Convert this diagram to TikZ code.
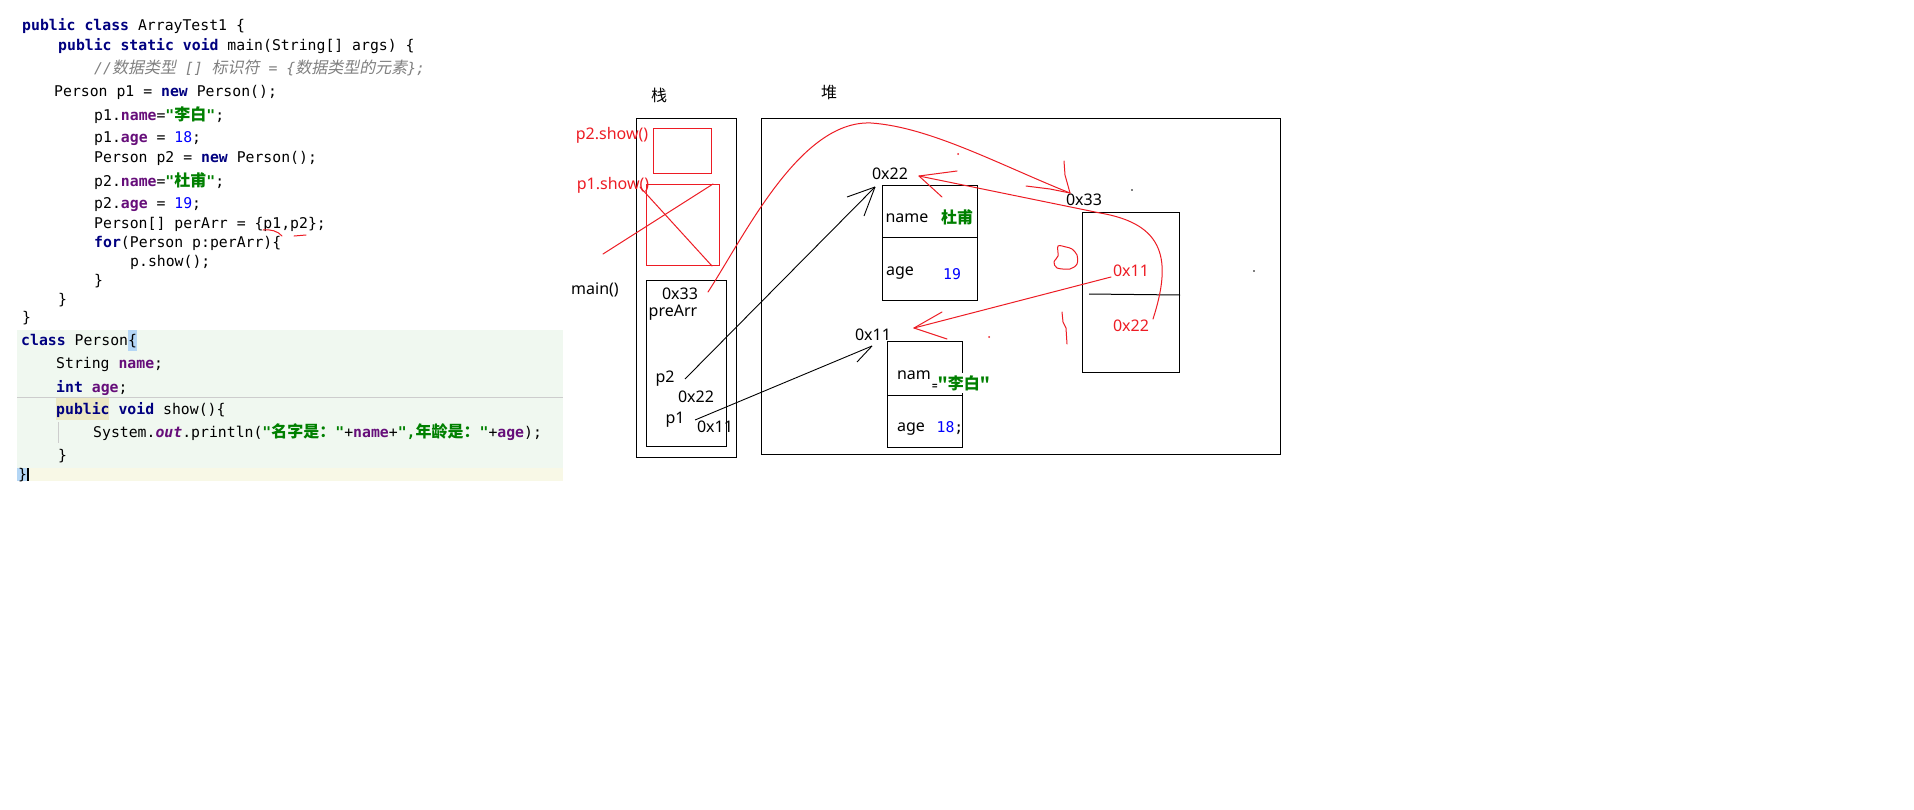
\documentclass[tikz,border=0pt]{standalone}
\usepackage{fontspec}
\setmainfont{Noto Sans}
\setmonofont{DejaVu Sans Mono}
\newfontfamily\cjk{Noto Sans CJK SC}
\newfontfamily\cjkit[FakeSlant=0.2]{Noto Sans CJK SC}
\definecolor{kwc}{RGB}{0,0,128}
\definecolor{fdc}{RGB}{102,14,122}
\definecolor{stc}{RGB}{0,128,0}
\definecolor{nmc}{RGB}{0,0,255}
\definecolor{cmc}{RGB}{128,128,128}
\definecolor{penred}{RGB}{237,28,36}
\definecolor{codebg}{RGB}{240,248,240}
\definecolor{curline}{RGB}{248,248,230}
\definecolor{bracebg}{RGB}{180,214,245}
\definecolor{pubbg}{RGB}{236,232,196}
\definecolor{guide}{RGB}{205,205,205}
\newcommand\kw[1]{{\color{kwc}\bfseries #1}}
\newcommand\fd[1]{{\color{fdc}\bfseries #1}}
\newcommand\st[1]{{\color{stc}\bfseries #1}}
\newcommand\nm[1]{{\color{nmc}#1}}
\newcommand\zh[1]{{\cjk\fontsize{16}{16}\selectfont #1}}
\newcommand\zhi[1]{{\cjkit\fontsize{16}{16}\selectfont #1}}
\tikzset{
  code/.style={anchor=base west, inner sep=0pt, font=\ttfamily\fontsize{14.8}{16}\selectfont},
  lbl/.style={inner sep=0pt, font=\fontsize{16}{18}\selectfont},
  redlbl/.style={lbl, text=penred},
  box/.style={draw=black, line width=1pt, anchor=north west, inner sep=0pt},
  redbox/.style={draw=penred, line width=1pt, anchor=north west, inner sep=0pt},
  ink/.style={draw=black, line width=0.9pt},
  redpen/.style={draw=penred, line width=1pt, line cap=round, line join=round},
}
\begin{document}
\begin{tikzpicture}[x=1pt,y=-1pt]
\useasboundingbox (0,0) rectangle (1914,809);
\fill[white] (0,0) rectangle (1914,809);

% ---------- code backgrounds ----------
\fill[codebg] (17,330) rectangle (563,468);
\fill[curline] (17,468) rectangle (563,481);
\draw[guide, line width=1pt] (17,397) -- (563,397);
\fill[bracebg] (128,330) rectangle (137,351);
\fill[pubbg] (56,398) rectangle (109,420);
\draw[guide, line width=1pt] (58,422) -- (58,443);
\fill[bracebg] (17,468) rectangle (27,481);
\fill[black] (27,468) rectangle (29,481);

% ---------- code ----------
\node[code] (c1) at (22,30) {\kw{public class} ArrayTest1 \{};
\node[code] (c2) at (58,50) {\kw{public static void} main(String[] args) \{};
\node[code] (c3) at (94,73) {\color{cmc}\itshape //\zhi{数据类型} [] \zhi{标识符} = \{\zhi{数据类型的元素}\};};
\node[code] (c4) at (54,96) {Person p1 = \kw{new} Person();};
\node[code] (c5) at (94,120) {p1.\fd{name}=\st{"\zh{李白}"};};
\node[code] (c6) at (94,142) {p1.\fd{age} = \nm{18};};
\node[code] (c7) at (94,162) {Person p2 = \kw{new} Person();};
\node[code] (c8) at (94,186) {p2.\fd{name}=\st{"\zh{杜甫}"};};
\node[code] (c9) at (94,208) {p2.\fd{age} = \nm{19};};
\node[code] (c10) at (94,228) {Person[] perArr = \{p1,p2\};};
\node[code] (c11) at (94,247) {\kw{for}(Person p:perArr)\{};
\node[code] (c12) at (130,266) {p.show();};
\node[code] (c13) at (94,285) {\}};
\node[code] (c14) at (58,304) {\}};
\node[code] (c15) at (22,322) {\}};
\node[code] (c16) at (21,345) {\kw{class} Person\{};
\node[code] (c17) at (56,368) {String \fd{name};};
\node[code] (c18) at (56,392) {\kw{int} \fd{age};};
\node[code] (c19) at (56,414) {\kw{public} \kw{void} show()\{};
\node[code] (c20) at (93,437) {System.{\color{fdc}\bfseries\itshape out}.println(\st{"\zh{名字是：}"}+\fd{name}+\st{",\zh{年龄是：}"}+\fd{age});};
\node[code] (c21) at (58,460) {\}};
\node[code] (c22) at (18,479) {\}};

% red scribbles in code
\draw[redpen] (263,230) .. controls (270,229) and (278,231) .. (282,236);
\draw[redpen] (294,236) -- (306,235);

% ---------- stack ----------
\node[lbl] (stk) at (659,95) {\cjk 栈};
\node[box, minimum width=100pt, minimum height=339pt] (stack) at (636,118) {};
\node[redbox, minimum width=58pt, minimum height=45pt] (f2) at (653,128) {};
\node[redbox, minimum width=73pt, minimum height=81pt] (f1) at (646,184) {};
\node[box, minimum width=80pt, minimum height=166pt] (fm) at (646,280) {};
\node[redlbl] (p2s) at (612,135) {p2.show()};
\node[redlbl] (p1s) at (613,185) {p1.show()};
\node[lbl] (mn) at (595,290) {main()};
\node[lbl] (s33) at (680,294) {0x33};
\node[lbl] (pa) at (673,313) {preArr};
\node[lbl] (sp2) at (665,379) {p2};
\node[lbl] (s22) at (696,397) {0x22};
\node[lbl] (sp1) at (675,420) {p1};
\node[lbl] (s11) at (715,427) {0x11};
% cross over p1.show frame
\draw[redpen] (640,187) -- (712,266);
\draw[redpen] (603,254) -- (713,184);

% ---------- heap ----------
\node[lbl] (hp) at (829,92) {\cjk 堆};
\node[box, minimum width=519pt, minimum height=336pt] (heap) at (761,118) {};

% p2 object
\node[box, minimum width=95pt, minimum height=115pt] (obj2) at (882,185) {};
\draw[line width=1pt] ([yshift=-52pt]obj2.north west) -- ([yshift=-52pt]obj2.north east);
\node[lbl] (h22) at (890,174) {0x22};
\node[lbl] (n2) at (907,218) {name};
\node[lbl, font=\cjk\bfseries\fontsize{16}{18}\selectfont, text=stc] (v2) at (957,217) {杜甫};
\node[lbl] (a2) at (900,273) {age};
\node[inner sep=0pt, font=\ttfamily\fontsize{14.8}{16}\selectfont, text=nmc] (g2) at (952,274) {19};

% p1 object
\node[box, minimum width=75pt, minimum height=106pt] (obj1) at (887,341) {};
\draw[line width=1pt] ([yshift=-54pt]obj1.north west) -- ([yshift=-54pt]obj1.north east);
\node[lbl] (h11) at (873,335) {0x11};
\node[lbl] (n1) at (914,375) {nam};
\node[fill=white, inner xsep=0pt, inner ysep=2pt, font=\cjk\bfseries\fontsize{16}{18}\selectfont, text=stc] (v1) at (961,383) {{\color{black}\fontsize{9}{9}\selectfont=}"李白"};
\node[lbl] (a1) at (911,429) {age};
\node[inner sep=0pt, font=\ttfamily\fontsize{14.8}{16}\selectfont] (g1) at (950,428) {\nm{18};};

% array object
\node[box, minimum width=97pt, minimum height=160pt] (arr) at (1082,212) {};
\draw[line width=1pt] ([xshift=7pt,yshift=-82pt]arr.north west) -- ([yshift=-83pt]arr.north east);
\node[lbl] (h33) at (1084,200) {0x33};
\node[redlbl] (r11) at (1131,271) {0x11};
\node[redlbl] (r22) at (1131,326) {0x22};

% ---------- black arrows (stack -> heap) ----------
\coordinate (p2from) at (685,379);
\coordinate (p2tip) at (875,187);
\draw[ink] (p2from) -- (p2tip);
\draw[ink] (p2tip) -- ++(-28,10);
\draw[ink] (p2tip) -- ++(-11,29);
\coordinate (p1from) at (695,420);
\coordinate (p1tip) at (872,346);
\draw[ink] (p1from) -- (p1tip);
\draw[ink] (p1tip) -- ++(-15,16);

% ---------- red arrows ----------
\coordinate (a33from) at (708,292);
\coordinate (a33tip) at (1070,193);
\draw[redpen] (a33from) .. controls (745,235) and (800,120) .. (871,123)
  .. controls (930,127) and (1000,165) .. (a33tip);
\draw[redpen] (a33tip) -- ++(-5,-18) -- ++(-1,-14);
\draw[redpen] (a33tip) -- ++(-20,-4) -- ++(-24,-3);

\coordinate (a22from) at (1153,319);
\coordinate (a22tip) at (919,176);
\draw[redpen] (a22from) .. controls (1172,260) and (1165,224) .. (1100,213) -- (a22tip);
\draw[redpen] (a22tip) -- ++(38,-5);
\draw[redpen] (a22tip) -- ++(23,21);

\coordinate (a11from) at (1111,277);
\coordinate (a11tip) at (914,328);
\draw[redpen] (a11from) -- (a11tip);
\draw[redpen] (a11tip) -- ++(28,-16);
\draw[redpen] (a11tip) -- ++(33,11);

% ---------- small scribbles ----------
\draw[redpen] plot[smooth cycle] coordinates {(1058,246) (1058,256) (1054,262) (1057,268) (1070,269) (1077,264) (1077,255) (1072,249) (1066,247)};
\draw[redpen] (1062,312) -- (1063,322) -- (1066,328) -- (1067,344);
\fill[penred] (958,154) circle (1);
\fill[penred] (989,337) circle (1);
\fill[black] (1132,190) circle (0.8);
\fill[black] (1254,271) circle (0.8);
\end{tikzpicture}
\end{document}
